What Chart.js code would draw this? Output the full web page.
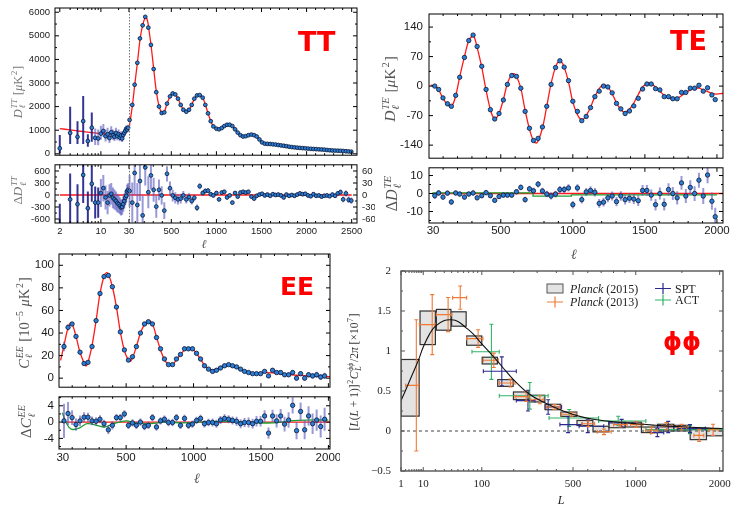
<!DOCTYPE html>
<html>
<head>
<meta charset="utf-8">
<script src="https://cdn.jsdelivr.net/npm/chart.js@4.4.0/dist/chart.umd.min.js"></script>
<style>
  html, body { margin: 0; padding: 0; background: #fff; }
  #wrap { position: relative; width: 732px; height: 505px; overflow: hidden; }
  canvas { position: absolute; }
</style>
</head>
<body>
<div id="wrap"></div>
<script>
// ---------- TT ----------
const ttLowEll = [2,3,4,5,6,7,8,9,10,11,12,13,14,15,16,17,18,19,20,21,22,23,24,25,26,27,28,29];
const ttLowD = [232,884,718,1382,540,1104,676,647,855,967,747,830,664,913,788,718,884,747,830,689,772,647,801,884,967,1062,1021,1104];
const ttLowUp = [560,1106,660,1070,290,650,400,380,330,300,280,270,260,250,240,230,220,210,200,190,180,170,160,150,145,140,135,130];
const ttLowDn = [207,470,300,970,240,590,300,280,260,240,230,220,210,200,190,180,175,170,160,155,150,145,140,135,130,125,120,115];
const ttResLow = [-820,-110,-230,500,-330,280,-190,-190,50,170,-60,-190,-10,30,-70,-110,-150,-200,-230,-270,-310,-300,-230,-150,-70,-20,90,130];
const ttResLowErr = [600,650,500,700,420,450,400,380,350,330,300,290,280,270,260,250,240,230,220,210,200,195,190,185,180,175,170,165];

const ttEll = [37,67,93,123,152,182,211,245,274,304,333,363,393,422,452,485,515,544,574,604,
  633,666,696,726,755,785,815,848,877,907,937,966,1000,1029,1059,1088,1118,1147,1177,1207,
  1236,1266,1296,1325,1355,1388,1418,1447,1477,1506,1536,1566,1596,1626,1656,1686,1716,1746,1776,1806,
  1836,1866,1896,1926,1956,1986,2016,2046,2076,2106,2136,2166,2196,2226,2256,2286,2316,2346,2376,2406,
  2436,2466,2496];
const ttD = [1437,2073,2930,3856,4892,5445,5805,5348,4616,3593,2612,2004,1728,1755,2128,2432,2557,2515,2336,2073,
  1866,1783,1866,2073,2336,2474,2488,2377,2073,1714,1382,1161,1064,1037,1092,1175,1230,1230,1175,1037,
  898,788,732,746,788,815,788,732,608,484,428,420,415,400,390,372,355,340,322,300,
  285,272,260,250,240,232,220,210,203,196,188,182,175,160,150,140,136,130,126,118,
  108,98,88];
// residuals above l=30 use the right-hand axis
const ttRes = [10,-19,55,-25,35,-51,69,7,49,13,-29,13,-1,-39,53,17,-1,-7,-11,-9,
  -1,-11,-5,-15,-7,-32,22,5,10,11,2,-1,5,-11,6,8,-6,-1,-19,5,
  -4,6,8,6,8,-4,-9,-2,1,3,-1,1,-2,2,0,1,-1,-6,1,-2,
  0,-2,1,4,2,3,-1,-3,2,-2,-1,-4,-2,-1,-3,1,-2,4,7,-11,
  4,-12,-14];
const ttResErr = [40,50,55,55,50,50,45,40,35,30,28,26,23,21,19,17,15,14,13,12,
  11,10,9.5,9,8.5,8,7.5,6,6,6,5,5,5,5,5,5,5,5,5,5,
  5,5,5,5,5,5,5,5,5,5,5,5,5,5,5,5,5,5,5,5,
  5,5,5,5,5,5,5,5,5,5,5,5,5,5,5,5,5.5,6,6.5,7,
  7.5,8,8];

const ttModelEll = [2,3,4,5,7,10,14,18,22,26,30,40,50,70,95,125,155,185,215,235,250,
  275,305,335,365,395,420,450,485,515,545,575,605,635,665,695,725,755,785,815,848,
  877,907,937,966,1000,1030,1060,1090,1120,1150,1180,1207,1236,1266,1296,1325,1355,1388,1418,1447,
  1477,1506,1536,1580,1630,1690,1740,1800,1850,1910,1960,2020,2070,2130,2180,2240,2290,2350,2400,2460,2510];
const ttModelD = [1070,1010,970,940,900,860,835,830,850,930,1080,1330,1550,2100,2950,3900,4900,5500,5780,5650,5300,
  4600,3580,2600,2000,1740,1760,2100,2430,2560,2510,2330,2070,1860,1780,1860,2060,2330,2470,2490,2380,
  2080,1720,1390,1170,1065,1040,1090,1170,1225,1230,1175,1040,900,790,735,745,790,815,790,735,
  610,490,430,410,400,370,340,300,275,250,235,215,205,190,180,155,140,130,122,100,85];

// ---------- TE ----------
const teEll = [42,69,99,130,157,187,215,248,278,308,336,368,398,428,458,488,518,546,576,609,
  639,669,699,727,759,789,819,849,880,910,940,970,1000,1032,1062,1093,1123,1153,1183,1213,
  1243,1273,1303,1333,1363,1393,1423,1454,1484,1514,1544,1574,1604,1634,1664,1694,1724,1754,1784,1815,
  1845,1875,1905,1935,1965,1988];
const teD = [0,-8,-28,-42,-48,-22,21,68,108,121,94,47,-8,-56,-78,-65,-33,4,25,23,
  -5,-60,-100,-129,-124,-97,-48,4,44,60,45,13,-36,-60,-82,-72,-51,-25,-12,0,
  -2,-16,-41,-54,-65,-59,-47,-29,-7,5,5,-6,-9,-25,-25,-30,-30,-15,-15,-5,
  -5,2,-12,-4,-21,-32];
const teRes = [-1.2,0.3,-2,0.2,-4.7,0.3,-0.3,-2,-0.3,0.3,-2.4,-1.2,0.5,-1.2,-3.8,-1.7,-0.9,-0.9,-0.9,1,
  3.4,-3.4,2.6,1.5,5.2,1.4,-0.3,-1.4,-0.3,2.2,2.2,3.1,-6.2,3.1,-3.4,0.9,1.7,0.7,-5.5,-4.8,
  -2.4,-1.4,-4.5,-1.4,-3.4,-2.6,-3.1,-4,1.7,1.7,-0.9,-6.2,0,-6,2.2,0,-2.4,5.9,-1.4,3.4,
  0,7.4,-1.4,10.3,-4.3,-12.9];
const teResErr = [1.8,1.6,1.5,1.5,1.5,1.4,1.4,1.4,1.4,1.4,1.4,1.4,1.4,1.4,1.4,1.4,1.4,1.4,1.5,1.5,
  1.6,1.6,1.7,1.7,1.8,1.8,1.8,1.9,1.9,2.0,2.0,2.0,2.1,2.1,2.2,2.2,2.3,2.3,2.4,2.4,
  2.5,2.5,2.6,2.6,2.7,2.7,2.8,2.9,3.0,3.0,3.1,3.2,3.3,3.4,3.5,3.6,3.7,3.8,3.9,4.0,
  4.1,4.2,4.4,4.6,4.8,5.0];
const teModelEll = [14,42,69,99,130,150,165,187,215,248,278,300,315,336,368,398,428,450,465,
  488,518,546,576,595,609,639,669,699,727,745,759,789,819,849,880,905,920,940,970,
  1000,1032,1055,1075,1093,1123,1153,1183,1203,1220,1243,1273,1303,1333,1355,1375,1400,1423,1454,1484,
  1514,1530,1550,1574,1604,1634,1664,1694,1724,1754,1784,1815,1845,1875,1905,1935,1965,1995,2042];
const teModelD = [2,0,-9,-29,-44,-48,-45,-24,22,70,108,118,117,92,45,-10,-56,-76,-77,
  -65,-32,6,28,29,24,-5,-58,-102,-130,-135,-130,-100,-48,6,45,60,58,45,10,
  -38,-68,-79,-78,-70,-50,-25,-6,2,3,-2,-18,-40,-56,-62,-60,-52,-40,-20,-2,
  6,7,5,-3,-12,-22,-28,-31,-29,-23,-16,-9,-5,-5,-9,-13,-17,-19,-17];
const teGreenEll = [30,724,990,1222,2000];
const teGreenVal = [-0.5,0.3,-1.5,-0.8,-0.8];

// ---------- EE ----------
const eeEll = [39,69,99,128,158,188,217,247,277,306,336,368,398,428,457,487,517,547,576,606,
  636,665,695,725,755,784,814,844,873,903,933,962,992,1022,1052,1081,1111,1141,1170,1200,
  1230,1260,1289,1319,1349,1378,1408,1438,1467,1497,1527,1556,1586,1616,1646,1675,1705,1735,1764,1794,
  1824,1853,1883,1913,1943,1972];
const eeC = [28,45,48,37,23,13,14,28,51,75,90,91,81,63,41,25,16,19,28,40,
  48,50,48,36,26,17,12,12,17,21,26,26,26,22,17,11,8,6,7,9,
  11,12,11,10,8,6,5,4,4,4,6,2,7,5,5,3,3,5,0,4,
  0,3,2,3,1,2];
const eeRes = [0.3,2.1,1.1,-0.6,0.3,1.2,1.2,0.3,0.2,0.7,-0.4,-1.9,-0.8,1.1,1.1,2,-0.8,-0.2,-0.8,0,
  -1.1,-0.8,1.1,-1.2,0.3,0.7,-0.1,-0.1,1.1,-0.8,0.9,-0.8,-0.5,0.4,0.9,-0.4,-0.1,-0.1,-0.4,0.5,
  0.9,0.7,0.4,0.2,-0.4,-0.1,-0.1,-0.4,0.2,0.2,1.5,-2.7,1.5,0.3,1.5,-0.5,0.5,4.1,-2.1,2.6,
  -1.9,1.5,-0.4,0.5,-1.1,0.7];
const eeResErr = [4.2,2.8,1.8,1.5,1.3,1.2,1.1,1.1,1.0,1.0,1.0,1.0,1.0,0.9,0.9,0.9,0.9,0.9,0.9,0.9,
  0.9,0.9,0.9,0.9,0.9,0.9,0.9,0.9,0.9,0.9,0.9,0.9,0.9,0.9,0.9,0.9,0.9,1.0,1.0,1.0,
  1.0,1.0,1.0,1.1,1.1,1.1,1.2,1.2,1.3,1.3,1.4,1.4,1.5,1.6,1.7,1.8,1.9,2.0,2.1,2.2,
  2.3,2.4,2.5,2.6,2.7,2.8];
const eeModelEll = [14,39,69,94,128,158,200,217,247,277,306,336,352,368,398,428,457,487,517,532,
  547,576,606,636,665,695,725,755,784,814,844,873,903,933,962,992,1022,1052,1081,1111,
  1141,1170,1200,1230,1260,1289,1319,1349,1378,1408,1438,1467,1497,1527,1586,1646,1705,1764,1824,1883,
  1943,2002,2012];
const eeModelC = [15.8,29,44.5,49,37,23,11,14,29,51,75,90.5,93.4,92,81,63,41,24.4,15.8,15,
  17.8,28,40,47.4,51,48,36.5,25,16.4,12,12,16.4,21,25,26.7,26,22,16.7,11.5,8.3,
  7.2,8,9.8,11.5,12,11.5,9.8,8,6.3,5.2,4.6,4.6,4.9,5.2,4.6,3.7,3.2,2.6,2.3,2,
  1.7,1.4,1.4];
const eeGreenEll = [27,56,93,155,210,280,340,390,450,500,576,675,800,920,1170,1418,1590,1715,1840,2000];
const eeGreenVal = [2.3,-0.2,-1.75,-1.4,-0.4,-0.8,-1.2,-0.6,0,0.3,-0.2,-0.4,0,-0.2,0.15,-0.1,-0.2,0.3,0.5,0.5];

// ---------- lensing ----------
const ppLo = [1,8,21,40,66,101,145,199,264,339,426,526,638,763,902,1055,1222,1405,1603,1817];
const ppHi = [7.5,20,39,65,100,144,198,263,338,425,525,637,762,901,1054,1221,1404,1602,1816,2048];
const ppVal = [0.54,1.29,1.39,1.40,1.13,0.88,0.60,0.44,0.405,0.30,0.21,0.10,0.024,0.077,0.08,0.015,0.042,0.036,-0.045,-0.015];
const ppErr = [0.354,0.21,0.13,0.09,0.058,0.042,0.042,0.048,0.042,0.034,0.027,0.032,0.035,0.036,0.03,0.035,0.042,0.035,0.063,0.045];

const p13L = [6,17,35,54,91,133,188,250,313,390,490,603,722,860,1006,1157,1320,1497,1718,1907];
const p13Lo = [2,7.6,21,41.5,66,104,150,205,270,345,430,560,670,800,950,1100,1270,1440,1650,1850];
const p13Hi = [7.2,19.6,40,66,103,147,205,262,330,420,520,650,780,920,1070,1220,1380,1560,1780,1980];
const p13Val = [0.57,1.33,1.455,1.667,1.155,0.884,0.6,0.43,0.39,0.3,0.21,0.09,-0.01,0.08,0.08,0.01,0.06,0.05,-0.055,0.015];
const p13Err = [0.82,0.375,0.213,0.145,0.11,0.09,0.05,0.06,0.05,0.03,0.025,0.035,0.035,0.03,0.035,0.04,0.045,0.035,0.075,0.07];

const sptL = [158,258,355,469,600,870,1220,1340,1600];
const sptLo = [104,210,340,420,540,760,1150,1222,1450];
const sptHi = [210,290,430,560,720,1000,1290,1450,1800];
const sptVal = [0.746,0.38,0.3,0.08,0.06,0.1,-0.02,0.05,0.03];
const sptErr = [0.18,0.13,0.09,0.1,0.08,0.045,0.05,0.07,0.05];

const actL = [126,266,476,840,1600];
const actLo = [77,150,360,680,1100];
const actHi = [150,355,680,1100,2048];
const actVal = [0.99,0.44,0.163,0.125,0.017];
const actErr = [0.345,0.167,0.105,0.06,0.05];

const ppModelL = [1,1.5,2,3,4,5,7,10,15,20,30,40,50,65,80,100,130,160,200,265,340,440,550,670,800,1000,1200,1400,1600,1800,2048];
const ppModel = [0.38,0.45,0.51,0.61,0.69,0.76,0.88,1.05,1.22,1.31,1.38,1.39,1.37,1.29,1.21,1.09,0.94,0.8,0.64,0.46,0.35,0.25,0.18,0.14,0.115,0.09,0.072,0.058,0.047,0.039,0.031];

// ---------- axis transforms ----------
// TT: log below l=30, linear above
const uTT = l => l >= 30 ? l : 30 - 652 * Math.log10(30 / l);
// lensing: L^0.42 stretch
const fx = L => Math.pow(L, 0.42);

// ---------- drawing helpers ----------
const SERIF = 'Liberation Serif';
const UP = -Math.PI / 2;

function mathText(ctx, parts, x, y, o) {
  const size = o.size, ss = size * 0.68;
  const font = (p, s) => (p.i ? 'italic ' : '') + (o.bold ? 'bold ' : '') + s + 'px "' + (o.family || SERIF) + '"';
  const items = parts.map(p => {
    if (p.t !== undefined) { ctx.font = font(p, size); return {p, w: ctx.measureText(p.t).width}; }
    ctx.font = font(p, ss);
    const w = Math.max(p.sub ? ctx.measureText(p.sub).width : 0, p.sup ? ctx.measureText(p.sup).width : 0);
    return {p, w: w + size * 0.12};
  });
  const total = items.reduce((s, it) => s + it.w, 0);
  ctx.save();
  ctx.translate(x, y);
  if (o.rot) ctx.rotate(o.rot);
  ctx.fillStyle = o.color || '#000';
  ctx.textAlign = 'left';
  ctx.textBaseline = 'alphabetic';
  let cx = o.align === 'left' ? 0 : -total / 2;
  const base = size * 0.34;
  items.forEach(({p, w}) => {
    if (p.t !== undefined) {
      ctx.font = font(p, size);
      ctx.fillText(p.t, cx, base);
    } else {
      ctx.font = font(p, ss);
      if (p.sup) ctx.fillText(p.sup, cx + size * 0.06, base - size * 0.42);
      if (p.sub) ctx.fillText(p.sub, cx + size * 0.06, base + size * 0.24);
    }
    cx += w;
  });
  ctx.restore();
}

// error bars, crosses and boxes, drawn just under their own points
const errorBars = {
  id: 'errorBars',
  beforeDatasetDraw(chart, args) {
    const ds = chart.data.datasets[args.index], eb = ds.errorBars;
    if (!eb) return;
    const {ctx, chartArea: a} = chart;
    const sx = chart.scales.x, sy = chart.scales[ds.yAxisID || 'y'];
    ctx.save();
    ctx.beginPath();
    ctx.rect(a.left, a.top, a.right - a.left, a.bottom - a.top);
    ctx.clip();
    ds.data.forEach((p, i) => {
      ctx.strokeStyle = eb.colors ? eb.colors[i] : eb.color;
      ctx.lineWidth = eb.widths ? eb.widths[i] : eb.width;
      if (eb.box) {
        const x1 = sx.getPixelForValue(p.xl), x2 = sx.getPixelForValue(p.xh);
        const y1 = sy.getPixelForValue(p.hi), y2 = sy.getPixelForValue(p.lo);
        ctx.fillStyle = eb.fill;
        ctx.fillRect(x1, y1, x2 - x1, y2 - y1);
        ctx.strokeRect(x1, y1, x2 - x1, y2 - y1);
        return;
      }
      const px = sx.getPixelForValue(p.x), py = sy.getPixelForValue(p.y), c = eb.cap || 0;
      ctx.beginPath();
      if (p.hi !== undefined) {
        const y1 = sy.getPixelForValue(p.hi), y2 = sy.getPixelForValue(p.lo);
        ctx.moveTo(px, y1); ctx.lineTo(px, y2);
        if (c) { ctx.moveTo(px - c, y1); ctx.lineTo(px + c, y1); ctx.moveTo(px - c, y2); ctx.lineTo(px + c, y2); }
      }
      if (p.xl !== undefined) {
        const x1 = sx.getPixelForValue(p.xl), x2 = sx.getPixelForValue(p.xh);
        ctx.moveTo(x1, py); ctx.lineTo(x2, py);
        if (c) { ctx.moveTo(x1, py - c); ctx.lineTo(x1, py + c); ctx.moveTo(x2, py - c); ctx.lineTo(x2, py + c); }
      }
      ctx.stroke();
    });
    ctx.restore();
  }
};

// box frame with inward ticks on all four sides, plus labels
const frame = {
  id: 'frame',
  afterDatasetsDraw(chart) {
    const o = chart.canvas._panel;
    const {ctx, chartArea: a} = chart;
    const sx = chart.scales.x, sy = chart.scales.y;
    ctx.save();
    (o.vlines || []).forEach(v => {
      const px = Math.round(sx.getPixelForValue(v.x)) + 0.5;
      ctx.strokeStyle = v.color; ctx.lineWidth = 1; ctx.setLineDash(v.dash);
      ctx.beginPath(); ctx.moveTo(px, a.top); ctx.lineTo(px, a.bottom); ctx.stroke();
    });
    ctx.setLineDash([]);
    ctx.strokeStyle = o.color || '#000';
    ctx.lineWidth = o.width || 1;
    ctx.strokeRect(a.left, a.top, a.right - a.left, a.bottom - a.top);
    ctx.beginPath();
    const mark = (vals, len, horiz) => vals.forEach(v => {
      if (horiz) {
        const p = sx.getPixelForValue(v);
        if (p < a.left || p > a.right) return;
        ctx.moveTo(p, a.bottom); ctx.lineTo(p, a.bottom - len);
        ctx.moveTo(p, a.top); ctx.lineTo(p, a.top + len);
      } else {
        const p = sy.getPixelForValue(v);
        if (p < a.top - 0.5 || p > a.bottom + 0.5) return;
        ctx.moveTo(a.left, p); ctx.lineTo(a.left + len, p);
        ctx.moveTo(a.right, p); ctx.lineTo(a.right - len, p);
      }
    });
    mark(o.xMajor || [], 4, true); mark(o.xMinor || [], 2, true);
    mark(o.yMajor || [], 4, false); mark(o.yMinor || [], 2, false);
    ctx.lineWidth = 1;
    ctx.stroke();
    ctx.restore();
  },
  afterDraw(chart) {
    const o = chart.canvas._panel, ctx = chart.ctx;
    (o.texts || []).forEach(t => mathText(ctx, t.parts, t.x - o.off.x, t.y - o.off.y, t));
    if (o.extra) o.extra(ctx, o.off);
  }
};
Chart.register(errorBars, frame);

const wrap = document.getElementById('wrap');

function axis(a, horiz, size) {
  return {
    type: 'linear', position: a.position || (horiz ? 'bottom' : 'left'),
    min: a.min, max: a.max, display: !!a.labels,
    grid: {display: false, drawTicks: false}, border: {display: false},
    afterBuildTicks: s => { if (a.ticks) s.ticks = a.ticks.map(v => ({value: v})); },
    afterFit: s => {
      if (horiz) s.height = size; else s.width = size;
      s.paddingLeft = s.paddingRight = s.paddingTop = s.paddingBottom = 0;
    },
    ticks: {
      autoSkip: false, maxRotation: 0, minRotation: 0, padding: a.pad || 4, color: a.color || '#1a1a1a',
      font: {family: a.family || 'Liberation Sans', size: a.fs || 10},
      callback: (v, i) => a.labels ? a.labels[i] : ''
    }
  };
}

function makePanel(box, pad, spec) {
  const c = document.createElement('canvas');
  const W = box.r - box.l + pad.l + pad.r, H = box.b - box.t + pad.t + pad.b;
  c.width = W; c.height = H;
  Object.assign(c.style, {left: (box.l - pad.l) + 'px', top: (box.t - pad.t) + 'px', width: W + 'px', height: H + 'px'});
  wrap.appendChild(c);
  c._panel = Object.assign({off: {x: box.l - pad.l, y: box.t - pad.t}}, spec.frame);
  const scales = {x: axis(spec.x, true, pad.b), y: axis(spec.y, false, pad.l)};
  if (spec.y2) scales.y2 = axis(Object.assign({position: 'right'}, spec.y2), false, pad.r);
  return new Chart(c, {
    type: 'scatter',
    data: {datasets: spec.datasets},
    options: {
      responsive: false, animation: false, devicePixelRatio: 1, events: [],
      layout: {padding: {
        left: spec.y.labels ? 0 : pad.l, right: spec.y2 ? 0 : pad.r,
        top: pad.t, bottom: spec.x.labels ? 0 : pad.b
      }},
      plugins: {legend: {display: false}, tooltip: {enabled: false}},
      scales
    }
  });
}

const dot = (data, extra) => Object.assign({
  data, showLine: false, pointRadius: 2.2, pointBorderWidth: 0.8,
  pointBackgroundColor: '#2b7fd9', pointBorderColor: '#0c1530'
}, extra);
const curve = (data, color, extra) => Object.assign({
  data, showLine: true, pointRadius: 0, borderColor: color, borderWidth: 1.3, tension: 0.35, fill: false
}, extra);
const withErr = (xs, ys, errs, f) => xs.map((l, i) => ({x: f ? f(l) : l, y: ys[i], hi: ys[i] + errs[i], lo: ys[i] - errs[i]}));
const series = (xs, ys, f) => xs.map((l, i) => ({x: f ? f(l) : l, y: ys[i]}));
const cross = (Ls, lo, hi, v, e) => Ls.map((L, i) => ({x: fx(L), y: v[i], hi: v[i] + e[i], lo: v[i] - e[i], xl: fx(lo[i]), xh: fx(hi[i])}));

const RED = '#ff1a1a', GREEN = '#1e9e30';
const BAR_LIGHT = 'rgba(85,85,190,0.6)', BAR_DARK = 'rgba(30,30,140,0.9)';
const redLabel = (txt, x, y, size) => ({parts: [{t: txt}], x, y, size, family: 'DejaVu Sans', bold: true, color: '#ff0000', align: 'left'});
const ttTicksEll = [2,10,30,500,1000,1500,2000,2500];
const ttMinorEll = [3,4,5,6,7,8,9,20,100,200,300,400,600,700,800,900,1100,1200,1300,1400,1600,1700,1800,1900,2100,2200,2300,2400];
const lin30Major = [500,1000,1500,2000];
const lin30Minor = [100,200,300,400,600,700,800,900,1100,1200,1300,1400,1600,1700,1800,1900];

// ---- TT spectrum ----
makePanel({l: 55, t: 8, r: 357, b: 159}, {l: 55, t: 8, r: 18, b: 1}, {
  x: {min: -790, max: 2559},
  y: {min: -60, max: 6180, ticks: [0,1000,2000,3000,4000,5000,6000], labels: ['0','1000','2000','3000','4000','5000','6000'], fs: 9.5, pad: 5},
  datasets: [
    dot(ttEll.map((l, i) => ({x: l, y: ttD[i]})), {pointRadius: 1.9}),
    dot(ttLowEll.map((l, i) => ({x: uTT(l), y: ttLowD[i], hi: ttLowD[i] + ttLowUp[i], lo: ttLowD[i] - ttLowDn[i]})),
      {pointRadius: 1.9, errorBars: {colors: ttLowEll.map(l => l < 8 ? BAR_DARK : BAR_LIGHT), width: 2}}),
    curve(series(ttModelEll, ttModelD, uTT), RED)
  ],
  frame: {
    xMajor: ttTicksEll.map(uTT), xMinor: ttMinorEll.map(uTT),
    yMajor: [0,1000,2000,3000,4000,5000,6000], yMinor: [500,1500,2500,3500,4500,5500],
    vlines: [{x: uTT(30), color: '#777', dash: [1.5, 1.5]}],
    texts: [
      {parts: [{t: 'D', i: 1}, {sub: 'ℓ', sup: 'TT', i: 1}, {t: ' ['}, {t: 'μ', i: 1}, {t: 'K'}, {sup: '2'}, {t: ']'}], x: 18, y: 92, size: 12.5, color: '#777', rot: UP},
      redLabel('TT', 298, 41.5, 27)
    ]
  }
});

// ---- TT residuals ----
makePanel({l: 55, t: 161, r: 357, b: 223}, {l: 55, t: 1, r: 18, b: 30}, {
  x: {min: -790, max: 2559, ticks: ttTicksEll.map(uTT), labels: ['2','10','30','500','1000','1500','2000','2500'], fs: 9.5, pad: 3},
  y: {min: -700, max: 755, ticks: [-600,-300,0,300,600], labels: ['-600','-300','0','300','600'], fs: 9.5, pad: 5},
  y2: {min: -70, max: 75.5, ticks: [-60,-30,0,30,60], labels: ['-60','-30','0','30','60'], fs: 9.5, pad: 5},
  datasets: [
    dot(withErr(ttEll, ttRes, ttResErr), {yAxisID: 'y2', pointRadius: 1.9, errorBars: {color: BAR_LIGHT, width: 2}}),
    dot(withErr(ttLowEll, ttResLow, ttResLowErr, uTT), {pointRadius: 1.9,
      errorBars: {colors: ttLowEll.map(l => l < 10 ? BAR_DARK : BAR_LIGHT), width: 2}}),
    curve(series([2, 2500], [0, 0], uTT), RED, {tension: 0})
  ],
  frame: {
    xMajor: ttTicksEll.map(uTT), xMinor: ttMinorEll.map(uTT),
    yMajor: [-600,-300,0,300,600], yMinor: [-450,-150,150,450],
    vlines: [{x: uTT(30), color: '#777', dash: [1.5, 1.5]}],
    texts: [
      {parts: [{t: 'Δ'}, {t: 'D', i: 1}, {sub: 'ℓ', sup: 'TT', i: 1}], x: 18, y: 190, size: 13, color: '#777', rot: UP},
      {parts: [{t: 'ℓ', i: 1}], x: 204, y: 244, size: 12, color: '#555'}
    ]
  }
});

// ---- TE spectrum ----
makePanel({l: 429, t: 14, r: 723, b: 162}, {l: 57, t: 14, r: 9, b: 1}, {
  x: {min: 2, max: 2042},
  y: {min: -171, max: 171, ticks: [-140,-70,0,70,140], labels: ['-140','-70','0','70','140'], fs: 11.5, pad: 6},
  datasets: [
    dot(withErr(teEll, teD, teResErr)),
    curve(series(teModelEll, teModelD), RED)
  ],
  frame: {
    xMajor: lin30Major, xMinor: lin30Minor,
    yMajor: [-140,-70,0,70,140], yMinor: [-105,-35,35,105],
    texts: [
      {parts: [{t: 'D', i: 1}, {sub: 'ℓ', sup: 'TE', i: 1}, {t: ' ['}, {t: 'μ', i: 1}, {t: 'K'}, {sup: '2'}, {t: ']'}], x: 390, y: 89, size: 15.5, color: '#555', rot: UP},
      redLabel('TE', 670, 40.5, 27)
    ]
  }
});

// ---- TE residuals ----
makePanel({l: 429, t: 164, r: 723, b: 223}, {l: 57, t: 1, r: 9, b: 40}, {
  x: {min: 2, max: 2042, ticks: [30,500,1000,1500,2000], labels: ['30','500','1000','1500','2000'], fs: 11.5, pad: 1},
  y: {min: -16.4, max: 14.3, ticks: [-10,0,10], labels: ['-10','0','10'], fs: 11.5, pad: 6},
  datasets: [
    dot(withErr(teEll, teRes, teResErr), {errorBars: {color: BAR_LIGHT, width: 2}}),
    curve(series(teGreenEll, teGreenVal), GREEN, {stepped: 'after', tension: 0}),
    curve(series([30, 2042], [0, 0]), RED, {tension: 0})
  ],
  frame: {
    xMajor: lin30Major, xMinor: lin30Minor,
    yMajor: [-10,0,10], yMinor: [-15,-5,5],
    texts: [
      {parts: [{t: 'Δ'}, {t: 'D', i: 1}, {sub: 'ℓ', sup: 'TE', i: 1}], x: 392, y: 193, size: 16, color: '#555', rot: UP},
      {parts: [{t: 'ℓ', i: 1}], x: 574, y: 254, size: 14, color: '#555'}
    ]
  }
});

// ---- EE spectrum ----
makePanel({l: 59, t: 254, r: 330, b: 391}, {l: 59, t: 14, r: 10, b: 1}, {
  x: {min: 2, max: 2012},
  y: {min: -8, max: 110, ticks: [0,20,40,60,80,100], labels: ['0','20','40','60','80','100'], fs: 11.5, pad: 5},
  datasets: [
    dot(withErr(eeEll, eeC, eeResErr), {errorBars: {color: BAR_LIGHT, width: 2}}),
    curve(series(eeModelEll, eeModelC), RED)
  ],
  frame: {
    xMajor: lin30Major, xMinor: lin30Minor,
    yMajor: [0,20,40,60,80,100], yMinor: [10,30,50,70,90],
    texts: [
      {parts: [{t: 'C', i: 1}, {sub: 'ℓ', sup: 'EE', i: 1}, {t: ' [10'}, {sup: '−5'}, {t: ' '}, {t: 'μ', i: 1}, {t: 'K'}, {sup: '2'}, {t: ']'}], x: 24, y: 323, size: 14.5, color: '#555', rot: UP},
      redLabel('EE', 280, 286.5, 25)
    ]
  }
});

// ---- EE residuals ----
makePanel({l: 59, t: 393, r: 330, b: 449}, {l: 59, t: 1, r: 10, b: 40}, {
  x: {min: 2, max: 2012, ticks: [30,500,1000,1500,2000], labels: ['30','500','1000','1500','2000'], fs: 11.5, pad: 2},
  y: {min: -6.6, max: 6.2, ticks: [-4,0,4], labels: ['-4','0','4'], fs: 11.5, pad: 5},
  datasets: [
    dot(withErr(eeEll, eeRes, eeResErr), {errorBars: {color: BAR_LIGHT, width: 2}}),
    curve(series(eeGreenEll, eeGreenVal), GREEN, {tension: 0.4}),
    curve(series([30, 2012], [0, 0]), RED, {tension: 0})
  ],
  frame: {
    xMajor: lin30Major, xMinor: lin30Minor,
    yMajor: [-4,0,4], yMinor: [-6,-2,2,6],
    texts: [
      {parts: [{t: 'Δ'}, {t: 'C', i: 1}, {sub: 'ℓ', sup: 'EE', i: 1}], x: 26, y: 421, size: 15, color: '#555', rot: UP},
      {parts: [{t: 'ℓ', i: 1}], x: 197, y: 478, size: 14, color: '#555'}
    ]
  }
});

// ---- lensing potential ----
const ORANGE = '#f07a35', NAVY = '#2a2a8e', ACTGREEN = '#2fb468';
function phiLegend(ctx, off) {
  const X = v => v - off.x, Y = v => v - off.y;
  ctx.save();
  ctx.fillStyle = '#e3e3e3'; ctx.strokeStyle = '#555'; ctx.lineWidth = 1;
  ctx.fillRect(X(547), Y(284), 16, 9); ctx.strokeRect(X(547), Y(284), 16, 9);
  const plus = (cx, cy, color) => {
    ctx.strokeStyle = color; ctx.lineWidth = 1.2; ctx.beginPath();
    ctx.moveTo(X(cx - 8), Y(cy)); ctx.lineTo(X(cx + 8), Y(cy));
    ctx.moveTo(X(cx), Y(cy - 5.5)); ctx.lineTo(X(cx), Y(cy + 5.5)); ctx.stroke();
  };
  plus(555, 302, ORANGE); plus(663, 288.5, NAVY); plus(663, 300, ACTGREEN);
  ctx.restore();
  const txt = (parts, x, y) => mathText(ctx, parts, X(x), Y(y), {size: 12, align: 'left', color: '#222'});
  txt([{t: 'Planck', i: 1}, {t: ' (2015)'}], 570, 288.5);
  txt([{t: 'Planck', i: 1}, {t: ' (2013)'}], 570, 302);
  txt([{t: 'SPT'}], 675, 288.5);
  txt([{t: 'ACT'}], 675, 300);
}

makePanel({l: 401, t: 271, r: 723, b: 471}, {l: 60, t: 8, r: 9, b: 34}, {
  x: {min: fx(1), max: fx(2048), ticks: [1,10,100,500,1000,2000].map(fx), labels: ['1','10','100','500','1000','2000'],
      family: SERIF, fs: 11, pad: 7, color: '#222'},
  y: {min: -0.5, max: 2, ticks: [-0.5,0,0.5,1,1.5,2], labels: ['−0.5','0','0.5','1','1.5','2'],
      family: SERIF, fs: 11, pad: 10, color: '#222'},
  datasets: [
    curve(series(ppModelL, ppModel, fx), '#111', {borderWidth: 1.1, tension: 0.4}),
    dot(cross(p13L, p13Lo, p13Hi, p13Val, p13Err), {pointRadius: 0, errorBars: {color: ORANGE, width: 1.1, cap: 2}}),
    dot(cross(sptL, sptLo, sptHi, sptVal, sptErr), {pointRadius: 0, errorBars: {color: NAVY, width: 1.1, cap: 2}}),
    dot(cross(actL, actLo, actHi, actVal, actErr), {pointRadius: 0, errorBars: {color: ACTGREEN, width: 1.1, cap: 2}}),
    curve(series([1, 2048], [0, 0], fx), '#444', {borderWidth: 1, tension: 0, borderDash: [3, 3]}),
    dot(cross(ppLo, ppLo, ppHi, ppVal, ppErr), {pointRadius: 0, errorBars: {box: true, fill: 'rgba(215,215,215,0.7)', color: '#333', width: 1.2}})
  ],
  frame: {
    color: '#555', width: 1.4,
    xMajor: [1,10,100,500,1000,2000].map(fx),
    xMinor: [2,3,4,5,6,7,8,9,20,30,40,50,60,70,80,90,200,300,400,600,700,800,900,1500].map(fx),
    yMajor: [-0.5,0,0.5,1,1.5,2], yMinor: [-0.25,0.25,0.75,1.25,1.75],
    texts: [
      {parts: [{t: '['}, {t: 'L', i: 1}, {t: '('}, {t: 'L', i: 1}, {t: ' + 1)]'}, {sup: '2'}, {t: 'C', i: 1}, {sub: 'L', sup: 'ϕϕ', i: 1},
        {t: '/2'}, {t: 'π', i: 1}, {t: ' [×10'}, {sup: '7'}, {t: ']'}], x: 354, y: 372, size: 11.5, color: '#333', rot: UP},
      {parts: [{t: 'L', i: 1}], x: 561, y: 500, size: 12, color: '#222'},
      redLabel('ϕϕ', 663, 342, 24)
    ],
    extra: phiLegend
  }
});
</script>
</body>
</html>
